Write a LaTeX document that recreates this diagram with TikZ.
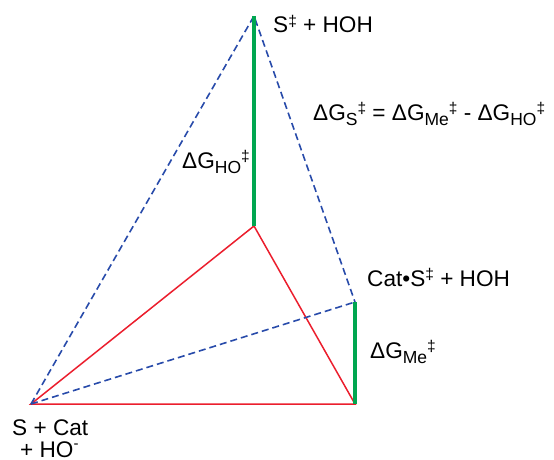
\documentclass[tikz,border=0pt]{standalone}
\usepackage{fontspec}
\setmainfont{Liberation Sans}
\definecolor{dblue}{RGB}{40,75,170}
\definecolor{lred}{RGB}{235,30,45}
\definecolor{lgreen}{RGB}{0,166,80}
\newcommand{\mydg}{\raisebox{0.55ex}{\fontsize{15.5}{15.5}\selectfont ‡}}
\newcommand{\mysb}[1]{\raisebox{-0.45ex}{\fontsize{17.5}{17.5}\selectfont #1}}
\begin{document}
\begin{tikzpicture}[x=1pt,y=-1pt,
  dashline/.style={dblue,line width=1.6pt,dash pattern=on 7pt off 4pt},
  redline/.style={lred,line width=1.5pt},
  greenline/.style={lgreen,line width=4pt},
  lbl/.style={anchor=base west,inner sep=0pt,font=\fontsize{22.6}{24}\selectfont}]
\useasboundingbox (0,0) rectangle (554,460);
\coordinate (A) at (31,404);
\coordinate (T) at (254,16);
\coordinate (M) at (254,226);
\coordinate (B) at (355,404);
\coordinate (R) at (355,302);
\draw[redline] (A) -- (M) -- (B) -- cycle;
\draw[dashline] (A) -- (T) -- (R);
\draw[dashline] (A) -- (R);
\draw[greenline] (T) -- (M);
\draw[greenline] (R) -- (B);
\node[lbl] (l1) at (273,33) {S\mydg{} + HOH};
\node[lbl] (l2) at (313,120) {ΔG\mysb{S}\mydg{} = ΔG\mysb{Me}\mydg{} - ΔG\mysb{HO}\mydg};
\node[lbl] (l3) at (182,168) {ΔG\mysb{HO}\mydg};
\node[lbl] (l4) at (367,286) {Cat•S\mydg{} + HOH};
\node[lbl] (l5) at (370,358) {ΔG\mysb{Me}\mydg};
\node[lbl] (l6) at (12,435) {S + Cat};
\node[lbl] (l7) at (20,457) {+ HO\raisebox{0.7ex}{\fontsize{15}{15}\selectfont -}};
\end{tikzpicture}
\end{document}
